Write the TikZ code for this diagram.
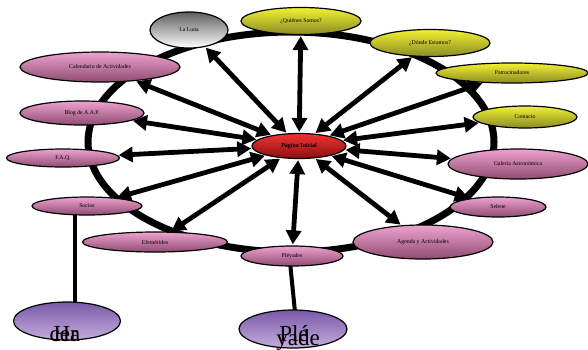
\documentclass[tikz,border=0pt]{standalone}
\usepackage{fontspec}
\setmainfont{Liberation Serif}
\usetikzlibrary{shapes.geometric,arrows.meta}
\definecolor{pinkT}{HTML}{EFA2D0}
\definecolor{pinkB}{HTML}{8E4C70}
\definecolor{yelT}{HTML}{F2F232}
\definecolor{yelB}{HTML}{8A8A26}
\definecolor{redT}{HTML}{F23434}
\definecolor{redB}{HTML}{8A1010}
\definecolor{grayT}{HTML}{5E5E5E}
\definecolor{purT}{HTML}{7A58A8}
\definecolor{purB}{HTML}{C4AEDC}
\tikzset{
  bub/.style={ellipse,draw=black,line width=1.2pt,inner sep=0pt,font=\fontsize{5.8}{7}\selectfont},
  pinkb/.style={bub,top color=pinkT,bottom color=pinkB},
  yelb/.style={bub,top color=yelT,bottom color=yelB},
  redb/.style={bub,top color=redT,bottom color=redB,font=\fontsize{6}{7}\selectfont\bfseries},
  grayb/.style={bub,top color=grayT,bottom color=white},
  purb/.style={bub,top color=purT,bottom color=purB},
  ring/.style={line width=7pt},
  stem/.style={line width=4pt},
  dbl/.style={line width=4.8pt,{Triangle[length=14pt,width=15pt]}-{Triangle[length=14pt,width=15pt]},shorten <=1pt,shorten >=1pt},
  big/.style={font=\fontsize{23}{23}\selectfont,inner sep=0pt}
}
\begin{document}
\begin{tikzpicture}[x=1pt,y=-1pt]
\useasboundingbox (0,0) rectangle (588,349);
\draw[ring] (291,142) ellipse [x radius=203, y radius=110];
\coordinate (s1) at (75,210);
\coordinate (s2) at (75,310);
\coordinate (p1) at (290,262);
\coordinate (p2) at (295,312);
\draw[stem] (s1) -- (s2);
\draw[stem] (p1) -- (p2);
% nodes
\node[grayb,minimum width=78pt,minimum height=36pt] (luna) at (189,30) {La Luna};
\node[yelb,minimum width=120pt,minimum height=27pt] (qui) at (301,21) {¿Quiénes Somos?};
\node[yelb,minimum width=120pt,minimum height=27pt] (don) at (430,43) {¿Dónde Estamos?};
\node[yelb,minimum width=152pt,minimum height=20pt] (pat) at (512,73) {Patrocinadores};
\node[yelb,minimum width=104pt,minimum height=22pt] (con) at (525,117) {Contacto};
\node[pinkb,minimum width=140pt,minimum height=30pt] (gal) at (518,164) {Galería Astronómica};
\node[pinkb,minimum width=96pt,minimum height=20pt] (sel) at (498,207) {Selene};
\node[pinkb,minimum width=140pt,minimum height=34pt] (age) at (423,242) {Agenda y Actividades};
\node[pinkb,minimum width=102pt,minimum height=20pt] (ple) at (292,256) {Pléyades};
\node[pinkb,minimum width=145pt,minimum height=20pt] (efe) at (155,242) {Efemérides};
\node[pinkb,minimum width=110pt,minimum height=18pt] (soc) at (87,206) {Socios};
\node[pinkb,minimum width=113pt,minimum height=18pt] (faq) at (63,158) {F.A.Q.};
\node[pinkb,minimum width=124pt,minimum height=24pt] (blog) at (82,113) {Blog de A.A.P.};
\node[pinkb,minimum width=160pt,minimum height=30pt] (cal) at (100,67) {Calendario de Actividades};
\node[redb,minimum width=94pt,minimum height=25pt] (pi) at (299,146) {Página Inicial};
\node[purb,minimum width=107pt,minimum height=38pt] (hac) at (67,321) {};
\node[purb,minimum width=108pt,minimum height=38pt] (pld) at (293,329) {};
\node[big,anchor=base] (hact) at (67,341) {\rlap{\hspace{-4pt}cer}Ha};
\node[big,anchor=base] (pldt) at (294,341) {\rlap{\hspace{-3pt}\raisebox{-4pt}{yade}}Plé};
% arrows
\foreach \t in {luna,qui,don,pat,con,gal,sel,age,ple,efe,soc,faq,blog,cal}
  \draw[dbl] (pi) -- (\t);
\end{tikzpicture}
\end{document}
